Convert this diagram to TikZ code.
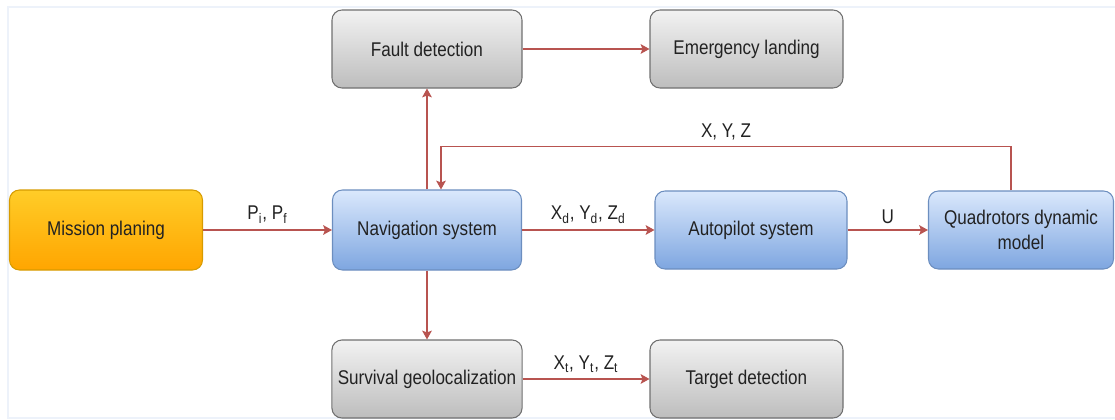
\documentclass[tikz,border=0pt]{standalone}
\usepackage{fontspec}
\setmainfont{Liberation Sans}[FakeStretch=0.86]
\usepackage{tikz}
\usetikzlibrary{arrows.meta}

\definecolor{linkred}{HTML}{B85450}
\definecolor{textgray}{HTML}{222222}
\definecolor{framecol}{HTML}{EDF2FA}
\definecolor{graytop}{HTML}{F2F2F2}
\definecolor{graybot}{HTML}{BDBDBD}
\definecolor{graydraw}{HTML}{707070}
\definecolor{bluetop}{HTML}{DAE8FC}
\definecolor{bluebot}{HTML}{7EA6E0}
\definecolor{bluedraw}{HTML}{6C8EBF}
\definecolor{orangetop}{HTML}{FFCD28}
\definecolor{orangebot}{HTML}{FFA500}
\definecolor{orangedraw}{HTML}{D79B00}

\begin{document}
\begin{tikzpicture}[
    font=\fontsize{11.3}{14.2}\selectfont, text=textgray,
    box/.style={rounded corners=0.2cm, minimum height=1.56cm, align=center, line width=0.6pt},
    graybox/.style={box, draw=graydraw, top color=graytop, bottom color=graybot},
    bluebox/.style={box, draw=bluedraw, top color=bluetop, bottom color=bluebot},
    orangebox/.style={box, draw=orangedraw, top color=orangetop, bottom color=orangebot},
    link/.style={-{Stealth[length=5pt,width=5.5pt,inset=1pt]}, draw=linkred, line width=0.8pt}
]
    \useasboundingbox (0,0) rectangle (22.3,-8.4);
    \draw[framecol, line width=1.2pt] (22.4,-0.14) -- (0.16,-0.14) -- (0.16,-8.36) -- (22.4,-8.36);

    % main row
    \node[orangebox, minimum width=3.86cm, minimum height=1.6cm] (mission) at (2.12,-4.6) {Mission planing};
    \node[bluebox, minimum width=3.78cm, minimum height=1.6cm] (nav) at (8.54,-4.6) {Navigation system};
    \node[bluebox, minimum width=3.84cm] (autopilot) at (15.02,-4.6) {Autopilot system};
    \node[bluebox, minimum width=3.7cm] (quad) at (20.42,-4.6) {Quadrotors dynamic\\model};

    % upper and lower rows
    \node[graybox, minimum width=3.8cm] (fault) at (8.54,-0.98) {Fault detection};
    \node[graybox, minimum width=3.86cm] (landing) at (14.93,-0.98) {Emergency landing};
    \node[graybox, minimum width=3.8cm] (survival) at (8.54,-7.58) {Survival geolocalization};
    \node[graybox, minimum width=3.86cm] (target) at (14.93,-7.58) {Target detection};

    \draw[link] (mission) -- node[above] {P\textsubscript{i}, P\textsubscript{f}} (nav);
    \draw[link] (nav) -- node[above] {X\textsubscript{d}, Y\textsubscript{d}, Z\textsubscript{d}} (autopilot);
    \draw[link] (autopilot) -- node[above] {U} (quad);
    \draw[link] (nav) -- (fault);
    \draw[link] (fault) -- (landing);
    \draw[link] (nav) -- (survival);
    \draw[link] (survival) -- node[above] {X\textsubscript{t}, Y\textsubscript{t}, Z\textsubscript{t}} (target);
    % feedback of the position
    \draw[link] ([xshift=-0.2cm]quad.north) -- ++(0,0.88) -| node[pos=0.25,above] {X, Y, Z} ([xshift=0.28cm]nav.north);
\end{tikzpicture}
\end{document}
